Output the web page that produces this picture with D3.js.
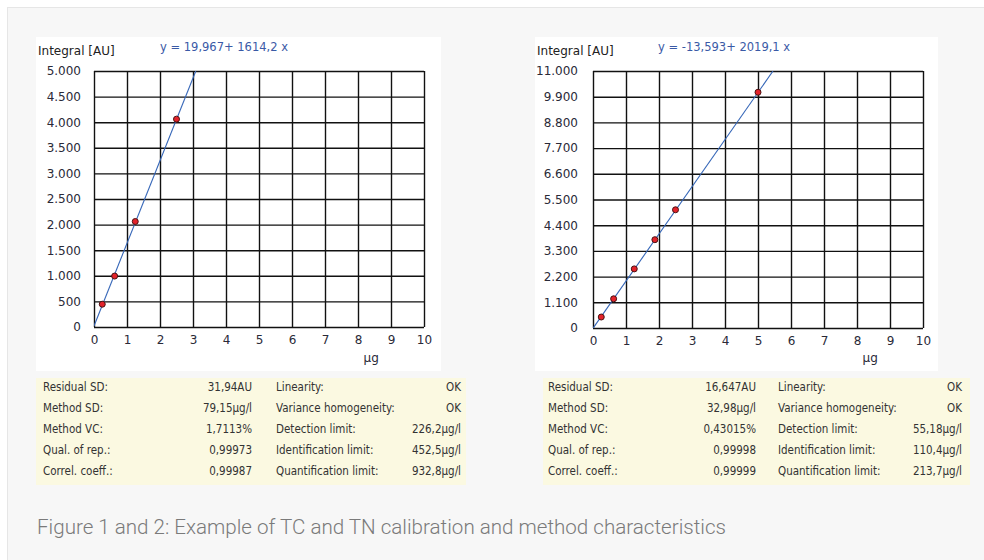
<!DOCTYPE html>
<html><head><meta charset="utf-8">
<script src="https://cdn.jsdelivr.net/npm/d3@7"></script>
<style>body{margin:0;background:#fff}svg{display:block}</style>
</head><body>
<script>
// ---- data ----
const xTicks = [0,1,2,3,4,5,6,7,8,9,10];
const tcYTicks = [0,500,1000,1500,2000,2500,3000,3500,4000,4500,5000];
const tcYTickLabels = ["0","500","1.000","1.500","2.000","2.500","3.000","3.500","4.000","4.500","5.000"];
const tnYTicks = [0,1100,2200,3300,4400,5500,6600,7700,8800,9900,11000];
const tnYTickLabels = ["0","1.100","2.200","3.300","4.400","5.500","6.600","7.700","8.800","9.900","11.000"];
const tcX = [0.25,0.625,1.25,2.5];
const tcY = [445,995,2060,4060];
const tnX = [0.25,0.625,1.25,1.875,2.5,5];
const tnY = [470,1250,2530,3780,5060,10090];
const tcFit = [19.967,1614.2];
const tnFit = [-13.593,2019.1];
const tcEquation = "y = 19,967+ 1614,2 x";
const tnEquation = "y = -13,593+ 2019,1 x";
const statLabels1 = ["Residual SD:","Method SD:","Method VC:","Qual. of rep.:","Correl. coeff.:"];
const statLabels2 = ["Linearity:","Variance homogeneity:","Detection limit:","Identification limit:","Quantification limit:"];
const tcStats1 = ["31,94AU","79,15µg/l","1,7113%","0,99973","0,99987"];
const tcStats2 = ["OK","OK","226,2µg/l","452,5µg/l","932,8µg/l"];
const tnStats1 = ["16,647AU","32,98µg/l","0,43015%","0,99998","0,99999"];
const tnStats2 = ["OK","OK","55,18µg/l","110,4µg/l","213,7µg/l"];
const caption = "Figure 1 and 2: Example of TC and TN calibration and method characteristics";

const svg = d3.select("body").append("svg").attr("width",984).attr("height",560);
svg.append("rect").attr("width",984).attr("height",560).attr("fill","#fff");
svg.append("rect").attr("x",7.5).attr("y",7.5).attr("width",980).attr("height",560)
  .attr("fill","#f7f7f7").attr("stroke","#e6e6e6");

const FONT = "'DejaVu Sans', Verdana, sans-serif";
const FONTC = "'DejaVu Sans Condensed', 'DejaVu Sans', sans-serif";

function drawChart(c){
  svg.append("rect").attr("x",c.panel[0]).attr("y",c.panel[1]).attr("width",c.panel[2]).attr("height",c.panel[3]).attr("fill","#fff");
  const x = d3.scaleLinear().domain([0,10]).range([c.left,c.right]);
  const y = d3.scaleLinear().domain([0,c.yMax]).range([c.bottom,c.top]);
  const g = svg.append("g");
  const ya = g.append("g").attr("transform",`translate(${c.left},0)`)
    .call(d3.axisLeft(y).tickValues(c.yTicks).tickFormat((d,i)=>c.yLabels[i])
      .tickSize(-(c.right-c.left)).tickSizeOuter(0).tickPadding(c.yPad));
  const xa = g.append("g").attr("transform",`translate(0,${c.bottom})`)
    .call(d3.axisBottom(x).tickValues(xTicks).tickFormat(d=>d)
      .tickSize(-(c.bottom-c.top)).tickSizeOuter(0).tickPadding(8));
  [ya,xa].forEach(a=>{
    a.select(".domain").remove();
    a.selectAll("line").attr("stroke","#111").attr("stroke-width",1.4);
    a.selectAll("text").attr("font-family",FONT).attr("font-size",12).attr("fill","#2a2a38");
  });
  const clipId = "clip"+c.id;
  svg.append("clipPath").attr("id",clipId).append("rect")
    .attr("x",c.left).attr("y",c.top).attr("width",c.right-c.left).attr("height",c.bottom-c.top);
  const xEnd = (c.yMax - c.fit[0])/c.fit[1];
  g.append("line").attr("clip-path",`url(#${clipId})`)
    .attr("x1",x(0)).attr("y1",y(c.fit[0])).attr("x2",x(xEnd)).attr("y2",y(c.yMax))
    .attr("stroke","#3566b8").attr("stroke-width",1.1);
  g.selectAll("circle.pt").data(c.xs).enter().append("circle")
    .attr("cx",d=>x(d)).attr("cy",(d,i)=>y(c.ys[i])).attr("r",3)
    .attr("fill","#e3222b").attr("stroke","#4a1212").attr("stroke-width",1);
  svg.append("text").attr("x",c.panel[0]+2).attr("y",55).text("Integral [AU]")
    .attr("font-family",FONT).attr("font-size",12).attr("fill","#222");
  svg.append("text").attr("x",c.eqX).attr("y",51).text(c.eq)
    .attr("font-family",FONT).attr("font-size",11.5).attr("fill","#3a5aa6");
  svg.append("text").attr("x",x(8.4)).attr("y",362).attr("text-anchor","middle").text("µg")
    .attr("font-family",FONT).attr("font-size",12).attr("fill","#2a2a38");
  const s = c.stats;
  svg.append("rect").attr("x",s.x0).attr("y",378).attr("width",s.x1-s.x0).attr("height",107).attr("fill","#fbf9e1");
  const st = svg.append("g").attr("font-family",FONTC).attr("font-size",11.5).attr("fill","#333");
  d3.range(5).forEach(i=>{
    const by = 391 + i*21;
    st.append("text").attr("x",s.c1).attr("y",by).text(statLabels1[i]);
    st.append("text").attr("x",s.c2).attr("y",by).attr("text-anchor","end").text(s.v1[i]);
    st.append("text").attr("x",s.c3).attr("y",by).text(statLabels2[i]);
    st.append("text").attr("x",s.c4).attr("y",by).attr("text-anchor","end").text(s.v2[i]);
  });
}

drawChart({id:1,panel:[36,37,405,334],left:94,right:424,top:71,bottom:327,
  yMax:5000,yTicks:tcYTicks,yLabels:tcYTickLabels,yPad:13,xs:tcX,ys:tcY,fit:tcFit,
  eq:tcEquation,eqX:160,
  stats:{x0:36,x1:466,c1:43,c2:252,c3:276,c4:461,v1:tcStats1,v2:tcStats2}});
drawChart({id:2,panel:[535,37,403,334],left:593,right:923,top:71,bottom:328,
  yMax:11000,yTicks:tnYTicks,yLabels:tnYTickLabels,yPad:15,xs:tnX,ys:tnY,fit:tnFit,
  eq:tnEquation,eqX:658,
  stats:{x0:543,x1:970,c1:548,c2:756,c3:778,c4:962,v1:tnStats1,v2:tnStats2}});

svg.append("text").attr("x",37).attr("y",534).text(caption)
  .attr("font-family","'Roboto','Open Sans',sans-serif").attr("font-weight",300)
  .attr("font-size",21).attr("fill","#7a7a7a")
  .attr("textLength",689).attr("lengthAdjust","spacingAndGlyphs");
</script>
</body></html>
